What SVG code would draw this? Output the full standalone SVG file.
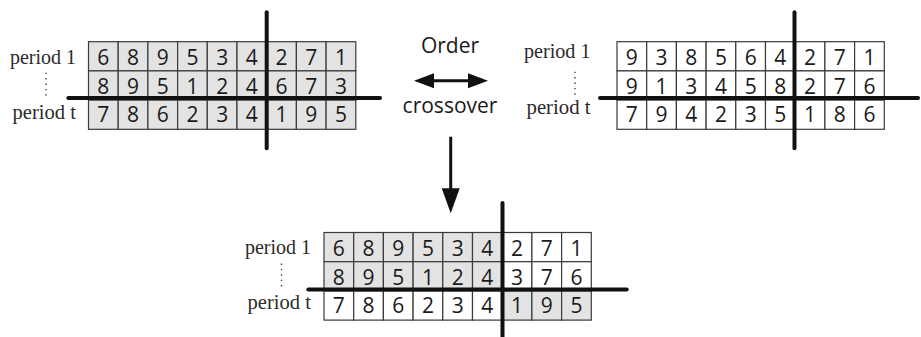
<svg xmlns="http://www.w3.org/2000/svg" width="921" height="337" viewBox="0 0 921 337">
<style>
.c{stroke:#3a3a3a;stroke-width:1.2}
.g{fill:#e3e3e3}
.w{fill:#ffffff}
.d{font-family:"Open Sans","Liberation Sans",sans-serif;font-size:21px;fill:#1a1a1a;text-anchor:middle}
.lb{font-family:"Liberation Serif","Times New Roman",serif;font-size:21px;font-weight:normal;fill:#2a2a2a;text-anchor:end}
.dots{stroke:#444;stroke-width:1.4;stroke-dasharray:1.4 4;fill:none}
.cut{stroke:#111;stroke-width:4;stroke-linecap:round;fill:none}
.t{font-family:"Open Sans","Liberation Sans",sans-serif;font-size:21px;fill:#1a1a1a;text-anchor:middle}
.ln{stroke:#111;stroke-width:3;fill:none}
.ah{fill:#111}
</style>
<rect width="921" height="337" fill="#ffffff"/>

<g id="parent-left" transform="translate(88.5,41.7)">
  <g class="c g">
    <rect x="0" y="0" width="29.7" height="29.2"/><rect x="29.7" y="0" width="29.7" height="29.2"/><rect x="59.4" y="0" width="29.7" height="29.2"/><rect x="89.1" y="0" width="29.7" height="29.2"/><rect x="118.8" y="0" width="29.7" height="29.2"/><rect x="148.5" y="0" width="29.7" height="29.2"/><rect x="178.2" y="0" width="29.7" height="29.2"/><rect x="207.9" y="0" width="29.7" height="29.2"/><rect x="237.6" y="0" width="29.7" height="29.2"/>
    <rect x="0" y="29.2" width="29.7" height="29.2"/><rect x="29.7" y="29.2" width="29.7" height="29.2"/><rect x="59.4" y="29.2" width="29.7" height="29.2"/><rect x="89.1" y="29.2" width="29.7" height="29.2"/><rect x="118.8" y="29.2" width="29.7" height="29.2"/><rect x="148.5" y="29.2" width="29.7" height="29.2"/><rect x="178.2" y="29.2" width="29.7" height="29.2"/><rect x="207.9" y="29.2" width="29.7" height="29.2"/><rect x="237.6" y="29.2" width="29.7" height="29.2"/>
    <rect x="0" y="58.4" width="29.7" height="29.2"/><rect x="29.7" y="58.4" width="29.7" height="29.2"/><rect x="59.4" y="58.4" width="29.7" height="29.2"/><rect x="89.1" y="58.4" width="29.7" height="29.2"/><rect x="118.8" y="58.4" width="29.7" height="29.2"/><rect x="148.5" y="58.4" width="29.7" height="29.2"/><rect x="178.2" y="58.4" width="29.7" height="29.2"/><rect x="207.9" y="58.4" width="29.7" height="29.2"/><rect x="237.6" y="58.4" width="29.7" height="29.2"/>
  </g>
  <g class="d">
    <text x="14.85" y="23.3">6</text><text x="44.55" y="23.3">8</text><text x="74.25" y="23.3">9</text><text x="103.95" y="23.3">5</text><text x="133.65" y="23.3">3</text><text x="163.35" y="23.3">4</text><text x="193.05" y="23.3">2</text><text x="222.75" y="23.3">7</text><text x="252.45" y="23.3">1</text>
    <text x="14.85" y="52.5">8</text><text x="44.55" y="52.5">9</text><text x="74.25" y="52.5">5</text><text x="103.95" y="52.5">1</text><text x="133.65" y="52.5">2</text><text x="163.35" y="52.5">4</text><text x="193.05" y="52.5">6</text><text x="222.75" y="52.5">7</text><text x="252.45" y="52.5">3</text>
    <text x="14.85" y="80.8">7</text><text x="44.55" y="80.8">8</text><text x="74.25" y="80.8">6</text><text x="103.95" y="80.8">2</text><text x="133.65" y="80.8">3</text><text x="163.35" y="80.8">4</text><text x="193.05" y="80.8">1</text><text x="222.75" y="80.8">9</text><text x="252.45" y="80.8">5</text>
  </g>
  <text class="lb" x="-12.5" y="22.3" textLength="66" lengthAdjust="spacingAndGlyphs">period 1</text>
  <text class="lb" x="-12.5" y="77.3" textLength="63.5" lengthAdjust="spacingAndGlyphs">period t</text>
  <line class="dots" x1="-42.5" y1="31" x2="-42.5" y2="57"/>
  <line class="cut" x1="178.2" y1="-29.4" x2="178.2" y2="106.6"/>
  <line class="cut" x1="-20.2" y1="56.3" x2="291.5" y2="56.3"/>
</g>

<g id="parent-right" transform="translate(617,41.7)">
  <g class="c w">
    <rect x="0" y="0" width="29.7" height="29.2"/><rect x="29.7" y="0" width="29.7" height="29.2"/><rect x="59.4" y="0" width="29.7" height="29.2"/><rect x="89.1" y="0" width="29.7" height="29.2"/><rect x="118.8" y="0" width="29.7" height="29.2"/><rect x="148.5" y="0" width="29.7" height="29.2"/><rect x="178.2" y="0" width="29.7" height="29.2"/><rect x="207.9" y="0" width="29.7" height="29.2"/><rect x="237.6" y="0" width="29.7" height="29.2"/>
    <rect x="0" y="29.2" width="29.7" height="29.2"/><rect x="29.7" y="29.2" width="29.7" height="29.2"/><rect x="59.4" y="29.2" width="29.7" height="29.2"/><rect x="89.1" y="29.2" width="29.7" height="29.2"/><rect x="118.8" y="29.2" width="29.7" height="29.2"/><rect x="148.5" y="29.2" width="29.7" height="29.2"/><rect x="178.2" y="29.2" width="29.7" height="29.2"/><rect x="207.9" y="29.2" width="29.7" height="29.2"/><rect x="237.6" y="29.2" width="29.7" height="29.2"/>
    <rect x="0" y="58.4" width="29.7" height="29.2"/><rect x="29.7" y="58.4" width="29.7" height="29.2"/><rect x="59.4" y="58.4" width="29.7" height="29.2"/><rect x="89.1" y="58.4" width="29.7" height="29.2"/><rect x="118.8" y="58.4" width="29.7" height="29.2"/><rect x="148.5" y="58.4" width="29.7" height="29.2"/><rect x="178.2" y="58.4" width="29.7" height="29.2"/><rect x="207.9" y="58.4" width="29.7" height="29.2"/><rect x="237.6" y="58.4" width="29.7" height="29.2"/>
  </g>
  <g class="d">
    <text x="14.85" y="23.3">9</text><text x="44.55" y="23.3">3</text><text x="74.25" y="23.3">8</text><text x="103.95" y="23.3">5</text><text x="133.65" y="23.3">6</text><text x="163.35" y="23.3">4</text><text x="193.05" y="23.3">2</text><text x="222.75" y="23.3">7</text><text x="252.45" y="23.3">1</text>
    <text x="14.85" y="52.5">9</text><text x="44.55" y="52.5">1</text><text x="74.25" y="52.5">3</text><text x="103.95" y="52.5">4</text><text x="133.65" y="52.5">5</text><text x="163.35" y="52.5">8</text><text x="193.05" y="52.5">2</text><text x="222.75" y="52.5">7</text><text x="252.45" y="52.5">6</text>
    <text x="14.85" y="80.8">7</text><text x="44.55" y="80.8">9</text><text x="74.25" y="80.8">4</text><text x="103.95" y="80.8">2</text><text x="133.65" y="80.8">3</text><text x="163.35" y="80.8">5</text><text x="193.05" y="80.8">1</text><text x="222.75" y="80.8">8</text><text x="252.45" y="80.8">6</text>
  </g>
  <text class="lb" x="-26.5" y="16.5" textLength="66.5" lengthAdjust="spacingAndGlyphs">period 1</text>
  <text class="lb" x="-26.5" y="72" textLength="64" lengthAdjust="spacingAndGlyphs">period t</text>
  <line class="dots" x1="-42" y1="30" x2="-42" y2="56"/>
  <line class="cut" x1="177.5" y1="-29.4" x2="177.5" y2="106.6"/>
  <line class="cut" x1="-17" y1="56.3" x2="301" y2="56.3"/>
</g>

<g id="label-order-crossover">
  <text class="t" x="450" y="53">Order</text>
  <text class="t" x="450" y="113">crossover</text>
</g>

<g id="offspring" transform="translate(324,232.5)">
  <g class="c">
    <rect class="g" x="0" y="0" width="29.7" height="29.2"/><rect class="g" x="29.7" y="0" width="29.7" height="29.2"/><rect class="g" x="59.4" y="0" width="29.7" height="29.2"/><rect class="g" x="89.1" y="0" width="29.7" height="29.2"/><rect class="g" x="118.8" y="0" width="29.7" height="29.2"/><rect class="g" x="148.5" y="0" width="29.7" height="29.2"/><rect class="w" x="178.2" y="0" width="29.7" height="29.2"/><rect class="w" x="207.9" y="0" width="29.7" height="29.2"/><rect class="w" x="237.6" y="0" width="29.7" height="29.2"/>
    <rect class="g" x="0" y="29.2" width="29.7" height="29.2"/><rect class="g" x="29.7" y="29.2" width="29.7" height="29.2"/><rect class="g" x="59.4" y="29.2" width="29.7" height="29.2"/><rect class="g" x="89.1" y="29.2" width="29.7" height="29.2"/><rect class="g" x="118.8" y="29.2" width="29.7" height="29.2"/><rect class="g" x="148.5" y="29.2" width="29.7" height="29.2"/><rect class="w" x="178.2" y="29.2" width="29.7" height="29.2"/><rect class="w" x="207.9" y="29.2" width="29.7" height="29.2"/><rect class="w" x="237.6" y="29.2" width="29.7" height="29.2"/>
    <rect class="w" x="0" y="58.4" width="29.7" height="29.2"/><rect class="w" x="29.7" y="58.4" width="29.7" height="29.2"/><rect class="w" x="59.4" y="58.4" width="29.7" height="29.2"/><rect class="w" x="89.1" y="58.4" width="29.7" height="29.2"/><rect class="w" x="118.8" y="58.4" width="29.7" height="29.2"/><rect class="w" x="148.5" y="58.4" width="29.7" height="29.2"/><rect class="g" x="178.2" y="58.4" width="29.7" height="29.2"/><rect class="g" x="207.9" y="58.4" width="29.7" height="29.2"/><rect class="g" x="237.6" y="58.4" width="29.7" height="29.2"/>
  </g>
  <g class="d">
    <text x="14.85" y="23.3">6</text><text x="44.55" y="23.3">8</text><text x="74.25" y="23.3">9</text><text x="103.95" y="23.3">5</text><text x="133.65" y="23.3">3</text><text x="163.35" y="23.3">4</text><text x="193.05" y="23.3">2</text><text x="222.75" y="23.3">7</text><text x="252.45" y="23.3">1</text>
    <text x="14.85" y="52.5">8</text><text x="44.55" y="52.5">9</text><text x="74.25" y="52.5">5</text><text x="103.95" y="52.5">1</text><text x="133.65" y="52.5">2</text><text x="163.35" y="52.5">4</text><text x="193.05" y="52.5">3</text><text x="222.75" y="52.5">7</text><text x="252.45" y="52.5">6</text>
    <text x="14.85" y="80.8">7</text><text x="44.55" y="80.8">8</text><text x="74.25" y="80.8">6</text><text x="103.95" y="80.8">2</text><text x="133.65" y="80.8">3</text><text x="163.35" y="80.8">4</text><text x="193.05" y="80.8">1</text><text x="222.75" y="80.8">9</text><text x="252.45" y="80.8">5</text>
  </g>
  <text class="lb" x="-13" y="21.8" textLength="66" lengthAdjust="spacingAndGlyphs">period 1</text>
  <text class="lb" x="-13" y="76.5" textLength="63.5" lengthAdjust="spacingAndGlyphs">period t</text>
  <line class="dots" x1="-42.5" y1="31" x2="-42.5" y2="57"/>
  <line class="cut" x1="178.5" y1="-29.5" x2="178.5" y2="108"/>
  <line class="cut" x1="-15.7" y1="57" x2="302.7" y2="57"/>
</g>

<g id="connectors">
  <line class="ln" x1="430" y1="80.7" x2="472" y2="80.7"/>
  <polygon class="ah" points="414,80.7 434,73.2 434,88.2"/>
  <polygon class="ah" points="488,80.7 468,73.2 468,88.2"/>
  <line class="ln" x1="450.7" y1="136.7" x2="450.7" y2="192"/>
  <polygon class="ah" points="441.7,188.3 459.7,188.3 450.7,213.3"/>
</g>
</svg>
